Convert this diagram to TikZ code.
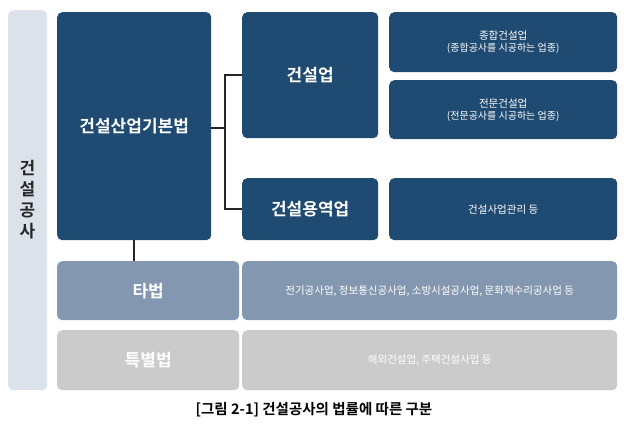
\documentclass[tikz,border=0pt]{standalone}
\usepackage{fontspec}
\setmainfont{Noto Sans CJK KR}
\newfontfamily\kb{Noto Sans CJK KR Bold}
\definecolor{navy}{HTML}{1F4A72}
\definecolor{mid}{HTML}{8497B0}
\definecolor{lgray}{HTML}{CBCBCB}
\definecolor{side}{HTML}{DCE2EA}
\begin{document}
\begin{tikzpicture}[x=1pt,y=-1pt,
  bx/.style={rounded corners=5pt,inner sep=0pt,anchor=north west},
  conn/.style={line width=2.2pt,draw=black!85}]
\useasboundingbox (0,0) rectangle (628,430);
\newcommand\bx[7]{\node[bx,fill=#6,minimum width=#3pt,minimum height=#4pt,text=#7,align=center] (#1) at #2 {#5};}
\node[bx,fill=side,minimum width=39pt,minimum height=380pt] (side) at (8,10) {};
\node[text=black!85,align=center,font=\kb\fontsize{17}{21}\selectfont] (sidet) at (27.5,200) {건\\설\\공\\사};
\bx{law}{(57,12)}{154}{228}{\kb\fontsize{17}{20}\selectfont 건설산업기본법}{navy}{white}
\bx{con}{(242,12)}{136}{126}{\kb\fontsize{17}{20}\selectfont 건설업}{navy}{white}
\bx{gen}{(389,12)}{228}{60}{\fontsize{10.5}{14}\selectfont 종합건설업\\(종합공사를 시공하는 업종)}{navy}{white}
\bx{spe}{(389,80)}{228}{59}{\fontsize{10.5}{14}\selectfont 전문건설업\\(전문공사를 시공하는 업종)}{navy}{white}
\bx{svc}{(242,178)}{136}{62}{\kb\fontsize{17}{20}\selectfont 건설용역업}{navy}{white}
\bx{cm}{(389,178)}{228}{62}{\fontsize{10.5}{14}\selectfont 건설사업관리 등}{navy}{white}
\bx{oth}{(57,261)}{182}{59}{\kb\fontsize{17}{20}\selectfont 타법}{mid}{white}
\bx{othr}{(242,261)}{375}{59}{\fontsize{10.5}{14}\selectfont 전기공사업, 정보통신공사업, 소방시설공사업, 문화재수리공사업 등}{mid}{white}
\bx{spc}{(57,330)}{182}{60}{\kb\fontsize{17}{20}\selectfont 특별법}{lgray}{white}
\bx{spcr}{(242,330)}{375}{60}{\fontsize{10.5}{14}\selectfont 해외건설업, 주택건설사업 등}{lgray}{white}
\coordinate (j) at (225,128);
\draw[conn] (law.east |- j) -- (j);
\draw[conn] (con.west) -| (j) |- (svc.west);
\draw[conn] (law.south) -- (oth.north -| law.south);
\node[font=\kb\fontsize{14.5}{17}\selectfont] (cap) at (314,410) {[그림 2-1] 건설공사의 법률에 따른 구분};
\end{tikzpicture}
\end{document}
